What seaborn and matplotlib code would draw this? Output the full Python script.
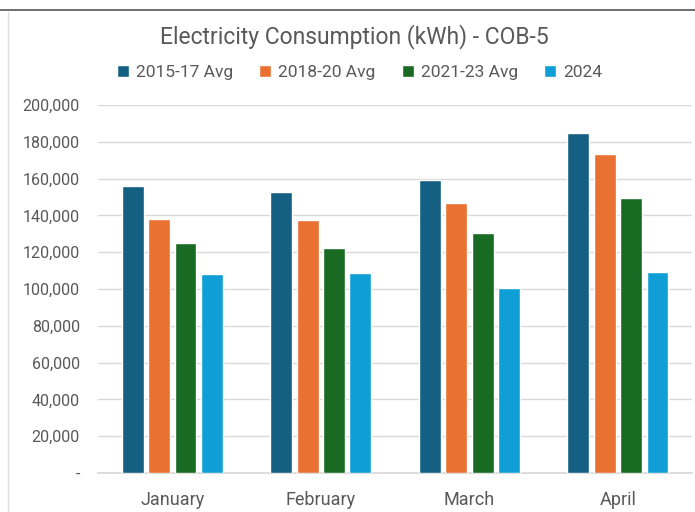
import numpy as np
import pandas as pd
import matplotlib
matplotlib.use("Agg")
import matplotlib.pyplot as plt
from matplotlib.lines import Line2D
from matplotlib.ticker import FuncFormatter
import seaborn as sns

# values (kWh)
months = ["January", "February", "March", "April"]
periods = ["2015-17 Avg", "2018-20 Avg", "2021-23 Avg", "2024"]
avg_2015_17 = [156100, 152500, 159400, 184900]
avg_2018_20 = [137900, 137500, 146700, 173200]
avg_2021_23 = [125200, 122100, 130600, 149600]
year_2024 = [108000, 108900, 100500, 109400]
colors = ["#156082", "#E97132", "#196B24", "#0F9ED5"]

df = pd.DataFrame({
    "Month": months * 4,
    "Period": np.repeat(periods, len(months)),
    "kWh": avg_2015_17 + avg_2018_20 + avg_2021_23 + year_2024,
})

sns.set_theme(style="white")
plt.rcParams["font.family"] = ["Roboto", "DejaVu Sans"]
text_gray = "#595959"

fig = plt.figure(figsize=(6.95, 5.12), dpi=100)
ax = fig.add_axes([0.141, 0.076, 0.855, 0.719])

sns.barplot(data=df, x="Month", y="kWh", hue="Period", order=months,
            hue_order=periods, palette=colors, width=0.71, gap=0.17,
            saturation=1, ax=ax, zorder=3)

ax.set_ylim(0, 200000)
ax.set_yticks(np.arange(0, 200001, 20000))
ax.yaxis.set_major_formatter(FuncFormatter(lambda v, p: "-" if v == 0 else f"{v:,.0f}"))
ax.grid(axis="y", color="#D9D9D9", linewidth=1, zorder=0)
ax.set_xlabel("")
ax.set_ylabel("")
for s in ["top", "right", "left"]:
    ax.spines[s].set_visible(False)
ax.spines["bottom"].set_color("#D9D9D9")
ax.tick_params(axis="y", colors=text_gray, labelsize=11.5, pad=13, length=0)
ax.tick_params(axis="x", colors=text_gray, labelsize=13, pad=13, length=0)

handles, labels = ax.get_legend_handles_labels()
ax.get_legend().remove()
fig.legend(handles, labels, loc="center", bbox_to_anchor=(0.517, 0.858), ncol=4,
           frameon=False, fontsize=12.5, handlelength=0.7, handleheight=0.7,
           handletextpad=0.4, columnspacing=1.5, labelcolor=text_gray)

fig.text(0.51, 0.928, "Electricity Consumption (kWh) - COB-5", ha="center",
         va="center", fontsize=16.5, color=text_gray)

# outer frame lines of the screenshot
fig.add_artist(Line2D([0, 1], [0.981, 0.981], color="#555555", linewidth=1.2))
fig.add_artist(Line2D([0.012, 0.012], [0, 0.977], color="#E0E0E0", linewidth=1))

fig.savefig("out.png", dpi=100)
